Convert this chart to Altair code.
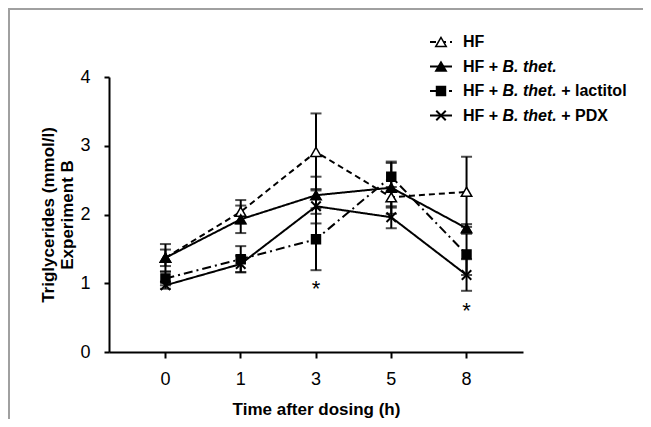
import altair as alt
import pandas as pd

# ---- data ----
times = ["0", "1", "3", "5", "8"]
series = ["HF", "HF + B. thet.", "HF + B. thet. + lactitol", "HF + B. thet. + PDX"]
hf = [1.37, 2.04, 2.91, 2.25, 2.33]
hf_err = [0.12, 0.17, 0.56, 0.15, 0.51]
bt = [1.37, 1.93, 2.28, 2.39, 1.80]
bt_err = [0.20, 0.20, 0.27, 0.38, 0.06]
lac = [1.07, 1.35, 1.64, 2.55, 1.42]
lac_err = [0.10, 0.19, 0.45, 0.20, 0.30]
pdx = [0.97, 1.28, 2.12, 1.96, 1.12]
pdx_err = [0.05, 0.12, 0.25, 0.16, 0.23]
star_times = ["3", "8"]
star_y = [0.96, 0.64]
y_ticks = [0, 1, 2, 3, 4]

means = [hf, bt, lac, pdx]
errs = [hf_err, bt_err, lac_err, pdx_err]

FONT = "Liberation Sans"
W, H = 414, 275
PAD = {"left": 101, "top": 69, "right": 120, "bottom": 67}

dashes = [[6, 4], [1, 0], [9, 4, 2, 4], [1, 0]]
shapes = ["triangle-up", "triangle-up", "square", "M-1,-1L1,1M-1,1L1,-1"]
fills = ["white", "black", "black", None]
sizes = [110, 110, 80, 90]

x_enc = alt.X("time:O", sort=times, scale=alt.Scale(padding=0.5),
              axis=alt.Axis(title="Time after dosing (h)", labelAngle=0,
                            labelFontSize=18, labelPadding=12, tickSize=6,
                            titleFontSize=17, titleFontWeight="bold",
                            titlePadding=13))
y_enc = alt.Y("v:Q", scale=alt.Scale(domain=[0, 4], nice=False),
              axis=alt.Axis(values=y_ticks, format="d", grid=False, tickSize=5,
                            labelFontSize=18, labelPadding=14,
                            title=["Triglycerides (mmol/l)", "Experiment B"],
                            titleAlign="center", titleAnchor="middle",
                            titleFontSize=17, titleFontWeight="bold",
                            titlePadding=3))

layers = []
frames = []
for i, s in enumerate(series):
    frames.append(pd.DataFrame({
        "time": times, "v": means[i],
        "lo": [m - e for m, e in zip(means[i], errs[i])],
        "hi": [m + e for m, e in zip(means[i], errs[i])],
        "series": s,
    }))

# lines
for i, df in enumerate(frames):
    layers.append(alt.Chart(df).mark_line(color="black", strokeWidth=2,
                                          strokeDash=dashes[i]).encode(x=x_enc, y=y_enc))
# error bars
for i, df in enumerate(frames):
    layers.append(alt.Chart(df).mark_rule(color="black", strokeWidth=2).encode(
        x=x_enc, y=alt.Y("lo:Q"), y2="hi:Q"))
    for f in ["lo", "hi"]:
        layers.append(alt.Chart(df).mark_tick(color="black", size=11, thickness=2).encode(
            x=x_enc, y=alt.Y(f + ":Q")))
# points
for i, df in enumerate(frames):
    if fills[i] is None:
        m = alt.Chart(df).mark_point(shape=shapes[i], size=sizes[i], filled=False,
                                     stroke="black", strokeWidth=2, opacity=1)
    else:
        m = alt.Chart(df).mark_point(shape=shapes[i], size=sizes[i], filled=True,
                                     fill=fills[i], stroke="black", strokeWidth=1.5,
                                     opacity=1, fillOpacity=1)
    layers.append(m.encode(x=x_enc, y=y_enc))

# significance stars
stars = pd.DataFrame({"time": star_times, "v": star_y})
layers.append(alt.Chart(stars).mark_text(text="*", fontSize=22, font=FONT,
                                         baseline="middle", dy=3, color="black").encode(
    x=x_enc, y=y_enc))

# ---- manual legend with mixed bold / italic text ----
AW = {"H": .722, "F": .611, " ": .278, "+": .584, "B": .722, ".": .278, "t": .333,
      "h": .611, "e": .556, "l": .278, "a": .556, "c": .556, "i": .278, "o": .611,
      "P": .667, "D": .722, "X": .667}
LFS = 16


def tw(s):
    return sum(AW.get(ch, .556) for ch in s) * LFS


row_y = [-35, -10.5, 14, 38.5]
sym_x0, sym_x1, sym_xm, txt_x = 321, 343, 332, 354
suffix = ["", "", "+ lactitol", "+ PDX"]
one = pd.DataFrame({"a": [0]})
for i, s in enumerate(series):
    yv = row_y[i]
    layers.append(alt.Chart(one).mark_rule(color="black", strokeWidth=2,
                                           strokeDash=dashes[i]).encode(
        x=alt.value(sym_x0), x2=alt.value(sym_x1), y=alt.value(yv)))
    if fills[i] is None:
        pm = alt.Chart(one).mark_point(shape=shapes[i], size=sizes[i], filled=False,
                                       stroke="black", strokeWidth=2, opacity=1)
    else:
        pm = alt.Chart(one).mark_point(shape=shapes[i], size=sizes[i], filled=True,
                                       fill=fills[i], stroke="black", strokeWidth=1.5,
                                       opacity=1)
    layers.append(pm.encode(x=alt.value(sym_xm), y=alt.value(yv)))
    if i == 0:
        segs = [("HF", "normal", txt_x)]
    else:
        x2 = txt_x + tw("HF + ")
        segs = [("HF +", "normal", txt_x), ("B. thet.", "italic", x2)]
        if suffix[i]:
            segs.append((suffix[i], "normal", x2 + tw("B. thet. ")))
    for text, style, xx in segs:
        layers.append(alt.Chart(one).mark_text(text=text, font=FONT, fontSize=LFS,
                                               fontWeight="bold", fontStyle=style,
                                               align="left", baseline="middle",
                                               color="black").encode(
            x=alt.value(xx), y=alt.value(yv)))

# ---- gray frame lines (top and left) ----
layers.append(alt.Chart(one).mark_rule(color="#a0a0a0", strokeWidth=2).encode(
    x=alt.value(-101), x2=alt.value(540), y=alt.value(-68)))
layers.append(alt.Chart(one).mark_rule(color="#a0a0a0", strokeWidth=2).encode(
    x=alt.value(-100), y=alt.value(-69), y2=alt.value(345)))

chart = alt.layer(*layers).properties(
    width=W, height=H, padding=PAD, autosize=alt.AutoSizeParams(type="none")
).configure_view(stroke=None).configure_axis(
    domainColor="black", domainWidth=2, tickColor="black", tickWidth=2,
    labelColor="black", titleColor="black", labelFont=FONT, titleFont=FONT
)

chart.save("out.html", embed_options={"renderer": "svg", "actions": False})
